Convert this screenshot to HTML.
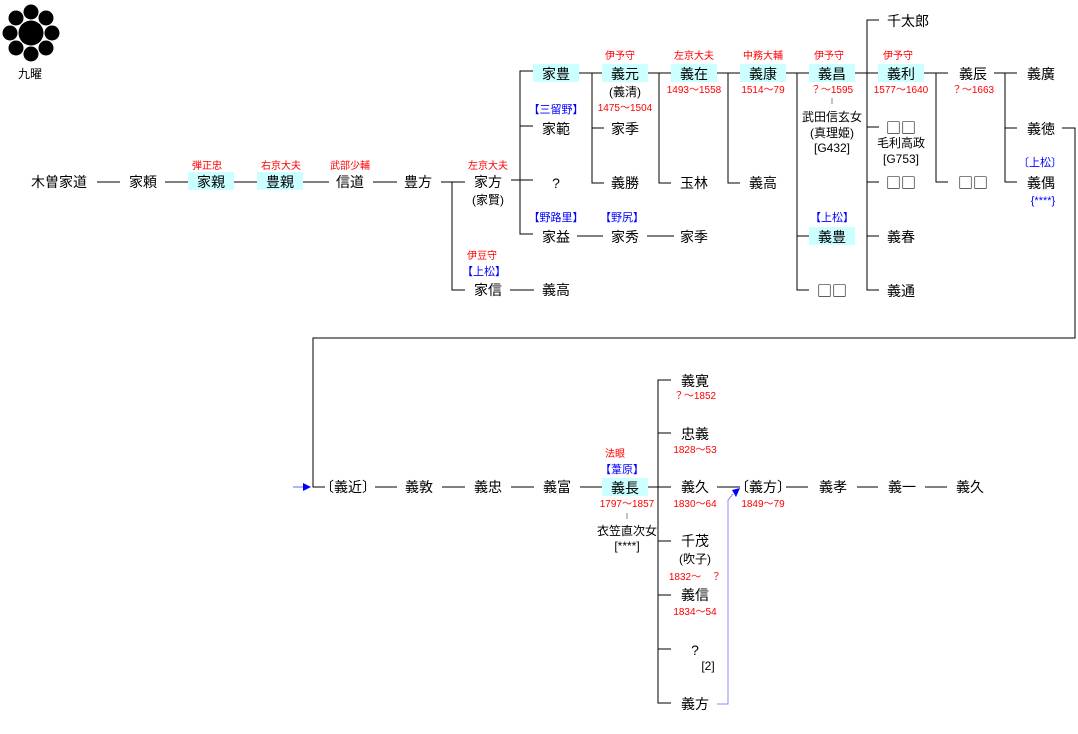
<!DOCTYPE html>
<html><head><meta charset="utf-8">
<style>
html,body{margin:0;padding:0;background:#fff;}
svg{display:block;}
text{font-family:"Liberation Sans","Noto Sans CJK JP","IPAGothic",sans-serif;text-anchor:middle;}
.n{font-size:14px;fill:#000;}
.q{font-family:"Noto Sans CJK JP",sans-serif;font-size:15px;}
.r{font-size:10px;fill:#f00;}
.b{font-size:11px;fill:#00f;}
.s{font-size:12px;fill:#000;}
.bx{fill:#ccffff;}
line,polyline{stroke:#000;stroke-width:1;fill:none;shape-rendering:crispEdges;}
</style></head>
<body>
<svg width="1078" height="734" viewBox="0 0 1078 734" xmlns="http://www.w3.org/2000/svg">
<g fill="#000">
<circle cx="31" cy="33" r="12.5"/>
<circle cx="31" cy="12" r="7.5"/><circle cx="31" cy="54" r="7.5"/>
<circle cx="10" cy="33" r="7.5"/><circle cx="52" cy="33" r="7.5"/>
<circle cx="16" cy="18" r="7.5"/><circle cx="46" cy="18" r="7.5"/>
<circle cx="16" cy="48" r="7.5"/><circle cx="46" cy="48" r="7.5"/>
</g>
<text x="30" y="78" class="s">九曜</text>

<rect class="bx" x="188" y="172" width="46" height="18"/>
<rect class="bx" x="257" y="172" width="46" height="18"/>
<rect class="bx" x="533" y="64" width="46" height="18"/>
<rect class="bx" x="602" y="64" width="46" height="18"/>
<rect class="bx" x="671" y="64" width="46" height="18"/>
<rect class="bx" x="740" y="64" width="46" height="18"/>
<rect class="bx" x="809" y="64" width="46" height="18"/>
<rect class="bx" x="878" y="64" width="46" height="18"/>
<rect class="bx" x="809" y="227" width="46" height="18"/>
<rect class="bx" x="602" y="478" width="46" height="18"/>

<line x1="97" y1="182" x2="120" y2="182"/>
<line x1="165" y1="182" x2="188" y2="182"/>
<line x1="234" y1="182" x2="257" y2="182"/>
<line x1="303" y1="182" x2="329" y2="182"/>
<line x1="373" y1="182" x2="397" y2="182"/>
<line x1="441" y1="182" x2="465" y2="182"/>
<polyline points="452,182 452,290 465,290"/>
<line x1="510" y1="290" x2="534" y2="290"/>
<line x1="511" y1="180" x2="520" y2="180"/>
<polyline points="533,71 520,71 520,234 533,234"/>
<line x1="520" y1="126" x2="533" y2="126"/>
<line x1="520" y1="180" x2="533" y2="180"/>
<line x1="577" y1="236" x2="603" y2="236"/>
<line x1="647" y1="236" x2="674" y2="236"/>
<line x1="579" y1="73" x2="602" y2="73"/>
<polyline points="592,73 592,183 604,183"/>
<line x1="592" y1="128" x2="604" y2="128"/>
<line x1="648" y1="73" x2="671" y2="73"/>
<polyline points="659,73 659,183 671,183"/>
<line x1="717" y1="73" x2="740" y2="73"/>
<polyline points="728,73 728,183 740,183"/>
<line x1="786" y1="73" x2="809" y2="73"/>
<polyline points="797,73 797,290 809,290"/>
<line x1="797" y1="236" x2="809" y2="236"/>
<line x1="855" y1="73" x2="878" y2="73"/>
<polyline points="879,20 867,20 867,290 879,290"/>
<line x1="867" y1="127" x2="879" y2="127"/>
<line x1="867" y1="182" x2="879" y2="182"/>
<line x1="867" y1="236" x2="879" y2="236"/>
<line x1="924" y1="73" x2="948" y2="73"/>
<polyline points="936,73 936,182 948,182"/>
<line x1="994" y1="73" x2="1017" y2="73"/>
<polyline points="1005,73 1005,182 1017,182"/>
<line x1="1005" y1="128" x2="1017" y2="128"/>
<line x1="832" y1="98" x2="832" y2="104" style="stroke:#888"/>
<polyline points="1062,128 1075,128 1075,338 313,338 313,487 325,487"/>

<line x1="375" y1="487" x2="397" y2="487"/>
<line x1="442" y1="487" x2="465" y2="487"/>
<line x1="511" y1="487" x2="534" y2="487"/>
<line x1="580" y1="487" x2="602" y2="487"/>
<line x1="648" y1="487" x2="671" y2="487"/>
<polyline points="671,380 658,380 658,703 671,703"/>
<line x1="658" y1="433" x2="671" y2="433"/>
<line x1="658" y1="541" x2="671" y2="541"/>
<line x1="658" y1="595" x2="671" y2="595"/>
<line x1="658" y1="649" x2="671" y2="649"/>
<line x1="717" y1="487" x2="740" y2="487"/>
<line x1="786" y1="487" x2="808" y2="487"/>
<line x1="857" y1="487" x2="878" y2="487"/>
<line x1="925" y1="487" x2="947" y2="487"/>
<line x1="627" y1="513" x2="627" y2="519" style="stroke:#888"/>
<line x1="293" y1="487" x2="304" y2="487" style="stroke:#6666ff"/>
<polygon points="303,483 311,487 303,491" fill="#0000ff"/>
<polyline points="717,704 728,704 728,500 733,494" style="stroke:#8888ff"/>
<polygon points="732,490 740,488 736,497" fill="#0000ff"/>

<g class="n">
<text x="59" y="187">木曽家道</text>
<text x="143" y="187">家頼</text>
<text x="211" y="187">家親</text>
<text x="280" y="187">豊親</text>
<text x="350" y="187">信道</text>
<text x="418" y="187">豊方</text>
<text x="488" y="187">家方</text>
<text x="488" y="295">家信</text>
<text x="556" y="295">義高</text>
<text x="556" y="79">家豊</text>
<text x="556" y="134">家範</text>
<text x="556" y="188">?</text>
<text x="556" y="242">家益</text>
<text x="625" y="79">義元</text>
<text x="625" y="134">家季</text>
<text x="625" y="188">義勝</text>
<text x="625" y="242">家秀</text>
<text x="694" y="79">義在</text>
<text x="694" y="188">玉林</text>
<text x="694" y="242">家季</text>
<text x="763" y="79">義康</text>
<text x="763" y="188">義高</text>
<text x="832" y="79">義昌</text>
<text x="832" y="242">義豊</text>
<text x="832" y="296" class="q">□□</text>
<text x="908" y="26">千太郎</text>
<text x="901" y="79">義利</text>
<text x="901" y="133" class="q">□□</text>
<text x="901" y="188" class="q">□□</text>
<text x="901" y="242">義春</text>
<text x="901" y="296">義通</text>
<text x="973" y="79">義辰</text>
<text x="973" y="188" class="q">□□</text>
<text x="1041" y="79">義廣</text>
<text x="1041" y="134">義徳</text>
<text x="1041" y="188">義偶</text>
</g>
<g class="s">
<text x="488" y="204">(家賢)</text>
<text x="625" y="96">(義清)</text>
<text x="832" y="121">武田信玄女</text>
<text x="832" y="137">(真理姫)</text>
<text x="832" y="152">[G432]</text>
<text x="901" y="147">毛利高政</text>
<text x="901" y="163">[G753]</text>
</g>
<g class="r">
<text x="207" y="169">弾正忠</text>
<text x="281" y="169">右京大夫</text>
<text x="350" y="169">武部少輔</text>
<text x="488" y="169">左京大夫</text>
<text x="482" y="259">伊豆守</text>
<text x="620" y="59">伊予守</text>
<text x="625" y="111">1475～1504</text>
<text x="694" y="59">左京大夫</text>
<text x="694" y="93">1493～1558</text>
<text x="763" y="59">中務大輔</text>
<text x="763" y="93">1514～79</text>
<text x="829" y="59">伊予守</text>
<text x="832" y="93">？～1595</text>
<text x="898" y="59">伊予守</text>
<text x="901" y="93">1577～1640</text>
<text x="973" y="93">？～1663</text>
</g>
<g class="b">
<text x="556" y="113">【三留野】</text>
<text x="556" y="221">【野路里】</text>
<text x="622" y="221">【野尻】</text>
<text x="484" y="275">【上松】</text>
<text x="832" y="221">【上松】</text>
<text x="1040" y="166">〔上松〕</text>
<text x="1043" y="204">{****}</text>
</g>

<g class="n">
<text x="348" y="492">〔義近〕</text>
<text x="419" y="492">義敦</text>
<text x="488" y="492">義忠</text>
<text x="557" y="492">義富</text>
<text x="625" y="493">義長</text>
<text x="695" y="386">義寛</text>
<text x="695" y="439">忠義</text>
<text x="695" y="492">義久</text>
<text x="695" y="546">千茂</text>
<text x="695" y="600">義信</text>
<text x="695" y="655">?</text>
<text x="695" y="709">義方</text>
<text x="763" y="492">〔義方〕</text>
<text x="833" y="492">義孝</text>
<text x="902" y="492">義一</text>
<text x="970" y="492">義久</text>
</g>
<g class="s">
<text x="627" y="535">衣笠直次女</text>
<text x="627" y="550">[****]</text>
<text x="695" y="563">(吹子)</text>
<text x="708" y="670">[2]</text>
</g>
<g class="r">
<text x="615" y="457">法眼</text>
<text x="627" y="507">1797～1857</text>
<text x="695" y="399">？～1852</text>
<text x="695" y="453">1828～53</text>
<text x="695" y="507">1830～64</text>
<text x="695" y="580">1832～　？</text>
<text x="695" y="615">1834～54</text>
<text x="763" y="507">1849～79</text>
</g>
<g class="b">
<text x="622" y="473">【葦原】</text>
</g>
</svg>
</body></html>
